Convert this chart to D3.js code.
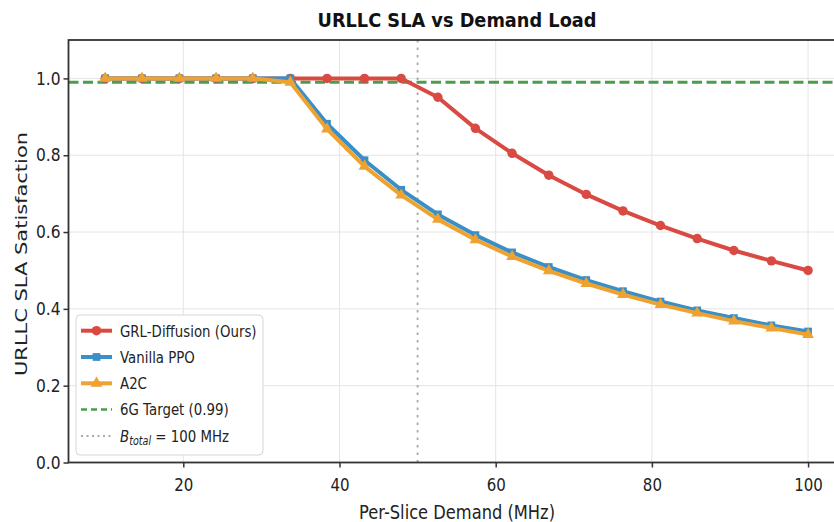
<!DOCTYPE html>
<html>
<head>
<meta charset="utf-8">
<script src="https://cdn.jsdelivr.net/npm/d3@7"></script>
<style>
  html, body { margin: 0; padding: 0; background: #fff; }
  svg { display: block; }
  text { font-family: "DejaVu Sans", sans-serif; }
</style>
</head>
<body>
<svg id="chart" width="834" height="522"></svg>
<script>
// ---- data ----
const demand = [10.0, 14.7, 19.5, 24.2, 28.9, 33.7, 38.4, 43.2, 47.9, 52.6, 57.4, 62.1, 66.8, 71.6, 76.3, 81.1, 85.8, 90.5, 95.3, 100.0];
const grlDiffusion = [1.0, 1.0, 1.0, 1.0, 1.0, 1.0, 1.0, 1.0, 1.0, 0.951, 0.870, 0.805, 0.748, 0.698, 0.655, 0.617, 0.583, 0.552, 0.525, 0.500];
const vanillaPPO   = [1.0, 1.0, 1.0, 1.0, 1.0, 1.0, 0.882, 0.787, 0.710, 0.646, 0.592, 0.547, 0.509, 0.475, 0.446, 0.419, 0.396, 0.376, 0.357, 0.341];
const a2c          = [1.0, 1.0, 1.0, 1.0, 1.0, 0.99, 0.868, 0.771, 0.696, 0.633, 0.580, 0.536, 0.499, 0.466, 0.437, 0.411, 0.389, 0.368, 0.350, 0.333];
const targetSLA = 0.99;
const totalBandwidthLine = 50;
const xTicks = [20, 40, 60, 80, 100];
const yTicks = [0.0, 0.2, 0.4, 0.6, 0.8, 1.0];
const seriesNames = ["GRL-Diffusion (Ours)", "Vanilla PPO", "A2C"];
const titleText = "URLLC SLA vs Demand Load";
const xLabel = "Per-Slice Demand (MHz)";
const yLabel = "URLLC SLA Satisfaction";

(function () {
// ---- layout ----
const SX = 0.835; // horizontal text compression seen in the reference
const svg = d3.select("#chart");
const pLeft = 68.5, pRight = 844, pTop = 40, pBottom = 462.5;
const x = d3.scaleLinear().domain([5.3, 104.6]).range([pLeft, pRight]);
const y = d3.scaleLinear().domain([0, 1.1]).range([pBottom, pTop]);

const colors = { red: "#d94a43", blue: "#3a8fc6", orange: "#eea232", green: "#4a9e4a", gray: "#a8a8a8" };

// grid
const grid = svg.append("g");
grid.selectAll("line.gx").data(xTicks).join("line").attr("class", "gx")
  .attr("x1", d => x(d)).attr("x2", d => x(d)).attr("y1", pTop).attr("y2", pBottom)
  .attr("stroke", "#e4e4e4").attr("stroke-width", 1);
grid.selectAll("line.gy").data(yTicks.slice(1)).join("line").attr("class", "gy")
  .attr("x1", pLeft).attr("x2", pRight).attr("y1", d => y(d)).attr("y2", d => y(d))
  .attr("stroke", "#e4e4e4").attr("stroke-width", 1);

// reference lines
svg.append("line")
  .attr("x1", pLeft).attr("x2", pRight).attr("y1", y(targetSLA)).attr("y2", y(targetSLA))
  .attr("stroke", colors.green).attr("stroke-width", 2.8).attr("stroke-dasharray", "10,4.5");
svg.append("line")
  .attr("x1", x(totalBandwidthLine)).attr("x2", x(totalBandwidthLine)).attr("y1", pTop).attr("y2", pBottom)
  .attr("stroke", colors.gray).attr("stroke-width", 1.8).attr("stroke-dasharray", "2.5,5");

// series
const series = [
  { name: seriesNames[0], values: grlDiffusion, color: colors.red, marker: d3.symbolCircle, size: 70 },
  { name: seriesNames[1], values: vanillaPPO, color: colors.blue, marker: d3.symbolSquare, size: 60 },
  { name: seriesNames[2], values: a2c, color: colors.orange, marker: d3.symbolTriangle, size: 60 }
];
const line = d3.line().x(d => x(d[0])).y(d => y(d[1]));
series.forEach(s => {
  const pts = demand.map((d, i) => [d, s.values[i]]);
  const g = svg.append("g");
  g.append("path").datum(pts).attr("d", line)
    .attr("fill", "none").attr("stroke", s.color).attr("stroke-width", 4)
    .attr("stroke-linejoin", "round");
  g.selectAll("path.m").data(pts).join("path").attr("class", "m")
    .attr("transform", d => `translate(${x(d[0])},${y(d[1])})`)
    .attr("d", d3.symbol().type(s.marker).size(s.size))
    .attr("fill", s.color);
});

// frame
svg.append("rect").attr("x", pLeft).attr("y", pTop).attr("width", pRight - pLeft).attr("height", pBottom - pTop)
  .attr("fill", "none").attr("stroke", "#333").attr("stroke-width", 1.8);

// axes
const yAxis = svg.append("g").attr("transform", `translate(${pLeft},0)`)
  .call(d3.axisLeft(y).tickValues(yTicks).tickFormat(d3.format(".1f")).tickSize(5).tickPadding(3));
const xAxis = svg.append("g").attr("transform", `translate(0,${pBottom})`)
  .call(d3.axisBottom(x).tickValues(xTicks).tickFormat(d3.format("d")).tickSize(5).tickPadding(11));
[yAxis, xAxis].forEach(a => {
  a.select(".domain").remove();
  a.selectAll(".tick line").attr("stroke", "#333").attr("stroke-width", 1.5);
  a.selectAll(".tick text").attr("font-size", 18).attr("fill", "#222")
    .attr("font-family", "DejaVu Sans");
});
yAxis.selectAll(".tick text").attr("transform", "scale(0.86,1)").attr("x", -9.3);
xAxis.selectAll(".tick text").attr("transform", `scale(${SX},1)`);

// title
svg.append("text").attr("x", 457).attr("y", 27).attr("text-anchor", "middle")
  .attr("font-size", 20).attr("font-weight", "bold").attr("fill", "#111")
  .attr("textLength", 279).attr("lengthAdjust", "spacingAndGlyphs")
  .text(titleText);

// axis labels
svg.append("text").attr("transform", `translate(457,519) scale(${SX},1)`)
  .attr("text-anchor", "middle").attr("font-size", 19.5).attr("fill", "#222")
  .text(xLabel);
svg.append("text").attr("transform", `translate(27,254) scale(${SX},1) rotate(-90)`)
  .attr("text-anchor", "middle").attr("font-size", 20).attr("fill", "#222")
  .attr("textLength", 244).attr("lengthAdjust", "spacingAndGlyphs")
  .text(yLabel);

// legend
const lg = svg.append("g");
lg.append("rect").attr("x", 76).attr("y", 315).attr("width", 187).attr("height", 140)
  .attr("rx", 4).attr("fill", "#fff").attr("fill-opacity", 0.92)
  .attr("stroke", "#d6d6d6").attr("stroke-width", 1);
const rowY = i => 330.7 + i * 26.3;
const legendItems = [
  ...series.map(s => ({ label: s.name, color: s.color, marker: s.marker, size: s.size, dash: null, width: 4 })),
  { label: "6G Target (0.99)", color: colors.green, marker: null, dash: "6,4", width: 2.5 },
  { label: "total", color: colors.gray, marker: null, dash: "2,3.5", width: 2 }
];
legendItems.forEach((it, i) => {
  const cy = rowY(i);
  lg.append("line").attr("x1", 81).attr("x2", 112).attr("y1", cy).attr("y2", cy)
    .attr("stroke", it.color).attr("stroke-width", it.width)
    .attr("stroke-dasharray", it.dash);
  if (it.marker) {
    lg.append("path").attr("transform", `translate(96.5,${cy})`)
      .attr("d", d3.symbol().type(it.marker).size(it.size)).attr("fill", it.color);
  }
  const t = lg.append("text").attr("transform", `translate(120,${cy + 5.8}) scale(${SX},1)`)
    .attr("font-size", 16).attr("fill", "#222");
  if (i === 4) {
    t.append("tspan").attr("font-style", "italic").text("B");
    t.append("tspan").attr("font-style", "italic").attr("font-size", 11.5).attr("dy", 3.5).text("total");
    t.append("tspan").attr("dy", -3.5).text(" = 100 MHz");
  } else {
    t.text(it.label);
  }
});
})();
</script>
</body>
</html>
